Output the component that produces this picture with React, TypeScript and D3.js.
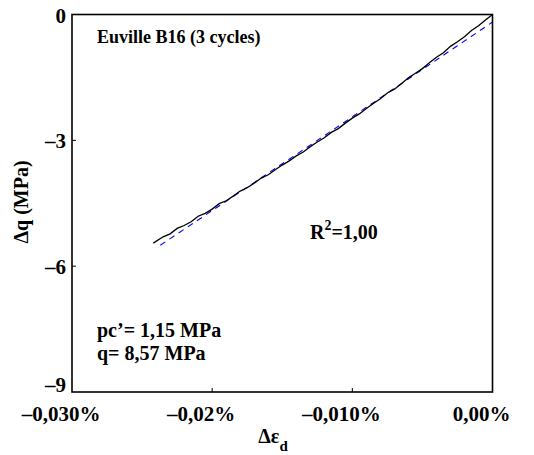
import React from "react";
import * as d3 from "d3";

const strainMeasured = [
  -0.0242, -0.0235, -0.023, -0.0225, -0.022, -0.0215, -0.021, -0.0205, -0.02, -0.0195,
  -0.019, -0.0185, -0.018, -0.0175, -0.017, -0.0165, -0.016, -0.0155, -0.015, -0.0145,
  -0.014, -0.0135, -0.013, -0.0125, -0.012, -0.0115, -0.011, -0.0105, -0.01, -0.0095,
  -0.009, -0.0085, -0.008, -0.0075, -0.007, -0.0065, -0.006, -0.0055, -0.005, -0.0045,
  -0.004, -0.0035, -0.003, -0.0025, -0.002, -0.0015, -0.001, -0.0005, 0.0,
];
const qMeasured = [
  -5.45, -5.3, -5.23, -5.1, -5.03, -4.94, -4.81, -4.74, -4.64, -4.51,
  -4.44, -4.33, -4.21, -4.13, -4.02, -3.9, -3.82, -3.7, -3.59, -3.49,
  -3.37, -3.28, -3.15, -3.04, -2.94, -2.81, -2.72, -2.59, -2.47, -2.37,
  -2.24, -2.12, -2.01, -1.87, -1.78, -1.65, -1.51, -1.4, -1.29, -1.15,
  -1.02, -0.91, -0.76, -0.65, -0.53, -0.38, -0.27, -0.13, 0.0,
];
const strainFit = [-0.0237, -0.012, 0.0];
const qFit = [-5.5, -2.89, -0.18];

const xTicks = [-0.03, -0.02, -0.01, 0];
const xTickLabels = ["\u20130,030%", "\u20130,02%", "\u20130,010%", "0,00%"];
const yTicks = [0, -3, -6, -9];
const yTickLabels = ["0", "\u20133", "\u20136", "\u20139"];

export default function App() {
  const W = 534, H = 455;
  const left = 72, right = 492.5, top = 14.5, bottom = 392;
  const x = d3.scaleLinear().domain([-0.03, 0]).range([left, right]);
  const y = d3.scaleLinear().domain([-9, 0]).range([bottom, top]);
  const line = d3.line<[number, number]>().x(d => x(d[0])).y(d => y(d[1]));
  const measured = strainMeasured.map((s, i) => [s, qMeasured[i]] as [number, number]);
  const fit = strainFit.map((s, i) => [s, qFit[i]] as [number, number]);

  return (
    <svg width={W} height={H}
      style={{ position: "absolute", left: 0, top: 0, background: "#fff", fontFamily: "\"Liberation Serif\", serif", fontWeight: 700 }}>
      <rect x={0} y={0} width={W} height={H} fill="#fff" />
      <path d={line(fit) || ""} fill="none" stroke="#0000ff" strokeWidth={1.1} strokeDasharray="6,5" />
      <path d={line(measured) || ""} fill="none" stroke="#000" strokeWidth={1.3} />
      <rect x={left} y={top} width={right - left} height={bottom - top} fill="none" stroke="#000" strokeWidth={1.6} />
      {xTicks.map((t, i) => (
        <g key={"x" + i}>
          {i > 0 && i < xTicks.length - 1 && (
            <line x1={x(t)} x2={x(t)} y1={bottom} y2={bottom - 4} stroke="#000" strokeWidth={1} />
          )}
          <text x={x(t) - 11} y={421} fontSize={21} textAnchor="middle">{xTickLabels[i]}</text>
        </g>
      ))}
      {yTicks.map((t, i) => (
        <g key={"y" + i}>
          {i > 0 && i < yTicks.length - 1 && (
            <line x1={left} x2={left + 4} y1={y(t)} y2={y(t)} stroke="#000" strokeWidth={1} />
          )}
          <text x={66} y={i === yTicks.length - 1 ? bottom : y(t) + 8} fontSize={21} textAnchor="end">{yTickLabels[i]}</text>
        </g>
      ))}
      <text x={273} y={443} fontSize={20} textAnchor="middle">
        Δε<tspan fontSize={15} dy={8}>d</tspan>
      </text>
      <text transform={`translate(28,202) rotate(-90)`} fontSize={20} textAnchor="middle">Δq (MPa)</text>
      <text x={97} y={43} fontSize={18}>Euville B16 (3 cycles)</text>
      <text x={310} y={239} fontSize={20}>
        R<tspan fontSize={14} dy={-9}>2</tspan><tspan dy={9}>=1,00</tspan>
      </text>
      <text x={97} y={337} fontSize={20}>pc’= 1,15 MPa</text>
      <text x={97} y={360} fontSize={20}>q= 8,57 MPa</text>
    </svg>
  );
}
